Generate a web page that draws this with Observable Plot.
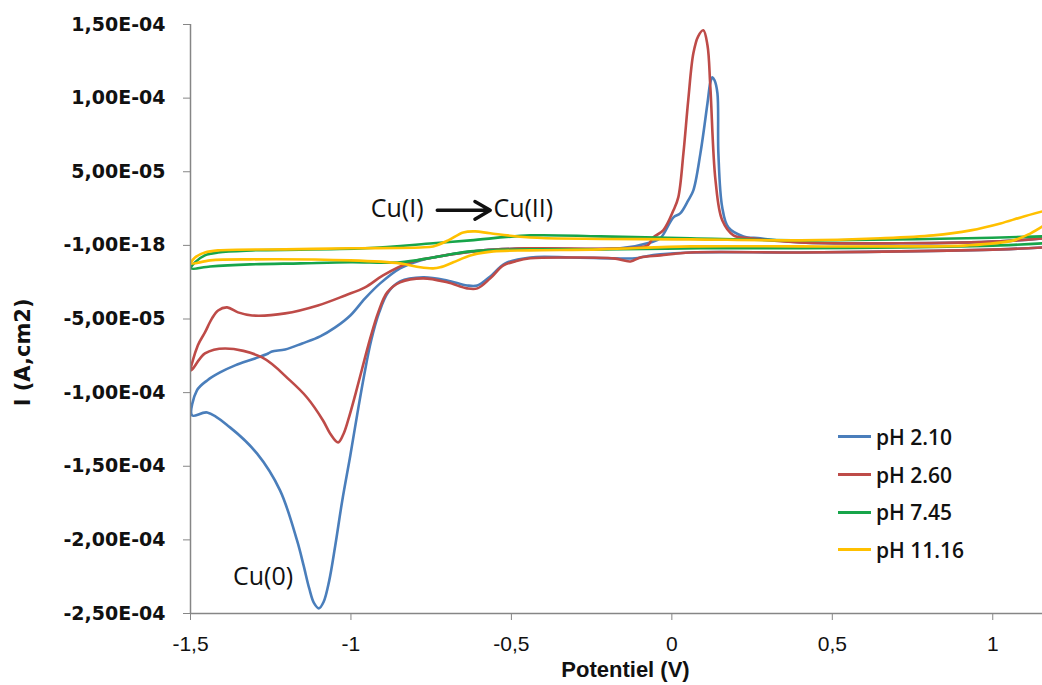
<!DOCTYPE html>
<html>
<head>
<meta charset="utf-8">
<script src="https://cdn.jsdelivr.net/npm/d3@7"></script>
<script src="https://cdn.jsdelivr.net/npm/@observablehq/plot@0.6"></script>
<style>
  html, body { margin: 0; padding: 0; background: #fff; }
  #wrap { position: relative; width: 1042px; height: 685px; }
  #legend { position: absolute; left: 838px; top: 418px; font-family: "Open Sans", "Liberation Sans", sans-serif; font-weight: 600; font-size: 21px; color: #111; }
  #legend .row { display: flex; align-items: center; height: 37.7px; }
  #legend .sw { width: 33px; height: 3px; margin-right: 5px; }
</style>
</head>
<body>
<div id="wrap"><div id="legend"></div></div>
<script>
// Potential (V) and current (units of 1e-5 A) — each loop: cathodic sweep (right→left) then anodic return
const seriesNames = ["pH 2.10", "pH 2.60", "pH 7.45", "pH 11.16"];
const seriesColors = ["#4a7ebb", "#be4b48", "#17a54a", "#ffc000"];

const ph210X = [1.155,1.024,0.712,0.401,0.058,-0.036,-0.083,-0.114,-0.182,-0.316,-0.441,-0.519,-0.566,-0.606,-0.638,-0.700,-0.775,-0.847,-0.884,-0.912,-0.937,-0.959,-0.981,-1.002,-1.027,-1.049,-1.068,-1.085,-1.100,-1.115,-1.130,-1.148,-1.168,-1.221,-1.293,-1.377,-1.448,-1.495,
  -1.480,-1.448,-1.408,-1.361,-1.299,-1.258,-1.246,-1.205,-1.152,-1.096,-1.049,-1.002,-0.956,-0.909,-0.847,-0.784,-0.744,-0.588,-0.441,-0.161,-0.067,-0.036,0.005,0.026,0.051,0.067,0.089,0.111,0.120,0.126,0.133,0.142,0.145,0.157,0.176,0.223,0.276,0.401,0.712,1.024,1.155];
const ph210Y = [-0.14,-0.27,-0.41,-0.48,-0.48,-0.61,-0.75,-0.88,-0.88,-0.82,-0.82,-1.22,-2.11,-2.72,-2.72,-2.38,-2.17,-2.45,-3.19,-4.55,-6.46,-8.83,-11.55,-14.27,-17.32,-20.40,-22.80,-24.20,-24.65,-24.30,-23.30,-21.70,-20.04,-16.64,-14.13,-12.36,-11.35,-11.55,
  -9.85,-9.17,-8.63,-8.15,-7.68,-7.34,-7.20,-7.07,-6.66,-6.18,-5.57,-4.76,-3.60,-2.58,-1.56,-1.02,-0.82,-0.34,-0.20,-0.20,0.20,0.48,1.90,2.17,3.06,3.74,6.25,9.65,11.07,11.41,11.21,10.33,6.25,2.58,1.22,0.61,0.48,0.20,0.14,0.27,0.48];

const ph260X = [1.155,1.024,0.712,0.401,0.058,-0.036,-0.098,-0.129,-0.182,-0.316,-0.441,-0.488,-0.525,-0.566,-0.606,-0.638,-0.700,-0.775,-0.847,-0.887,-0.915,-0.940,-0.965,-0.987,-1.009,-1.024,-1.040,-1.065,-1.087,-1.137,-1.190,-1.277,-1.392,-1.455,-1.498,
  -1.477,-1.455,-1.433,-1.414,-1.386,-1.352,-1.308,-1.205,-1.103,-1.018,-0.956,-0.900,-0.815,-0.744,-0.588,-0.441,-0.161,-0.076,-0.058,-0.027,0.005,0.020,0.036,0.051,0.067,0.082,0.098,0.111,0.120,0.136,0.157,0.192,0.245,0.401,0.712,1.024,1.155];
const ph260Y = [-0.14,-0.27,-0.41,-0.48,-0.48,-0.68,-0.82,-1.09,-0.88,-0.82,-0.88,-1.09,-1.36,-2.24,-2.92,-2.92,-2.51,-2.24,-2.51,-3.19,-4.55,-6.32,-8.36,-10.19,-11.89,-12.84,-13.38,-12.77,-11.89,-10.33,-9.17,-7.61,-7.00,-7.34,-8.49,
  -6.79,-5.91,-4.96,-4.42,-4.21,-4.55,-4.76,-4.62,-4.08,-3.40,-2.85,-2.04,-1.15,-0.82,-0.34,-0.20,-0.20,0.00,0.54,1.02,2.38,3.26,6.25,9.85,13.04,14.20,14.61,13.59,10.73,4.42,1.70,0.68,0.48,0.20,0.14,0.27,0.48];

const ph745X = [1.155,1.024,0.712,0.401,0.089,-0.223,-0.441,-0.628,-0.744,-0.847,-1.002,-1.158,-1.314,-1.439,-1.498,
  -1.486,-1.455,-1.414,-1.308,-0.956,-0.744,-0.628,-0.441,-0.223,0.058,0.401,0.921,1.155];
const ph745Y = [0.14,0.00,-0.14,-0.20,-0.20,-0.27,-0.27,-0.41,-0.82,-1.15,-1.15,-1.22,-1.29,-1.43,-1.56,
  -1.15,-0.68,-0.48,-0.34,-0.20,0.14,0.34,0.68,0.61,0.48,0.34,0.48,0.61];

const ph1116X = [1.155,1.118,1.065,0.921,0.712,0.401,0.058,-0.223,-0.441,-0.556,-0.628,-0.681,-0.722,-0.744,-0.784,-0.847,-1.002,-1.314,-1.439,-1.498,
  -1.486,-1.455,-1.414,-1.205,-1.002,-0.784,-0.744,-0.697,-0.650,-0.613,-0.566,-0.441,0.058,0.401,0.650,0.815,0.931,1.024,1.087,1.155];
const ph1116Y = [1.29,0.82,0.34,0.00,-0.07,-0.07,-0.07,-0.27,-0.34,-0.41,-0.68,-1.15,-1.49,-1.56,-1.49,-1.22,-1.02,-0.95,-1.02,-1.22,
  -0.82,-0.48,-0.34,-0.27,-0.20,-0.14,-0.07,0.34,0.88,0.95,0.82,0.54,0.41,0.34,0.48,0.68,1.02,1.49,1.90,2.31];

const xTicks = [-1.5, -1, -0.5, 0, 0.5, 1];
const xTickLabels = ["-1,5", "-1", "-0,5", "0", "0,5", "1"];
const yTicks = [-25, -20, -15, -10, -5, 0, 5, 10, 15];
const yTickLabels = ["-2,50E-04", "-2,00E-04", "-1,50E-04", "-1,00E-04", "-5,00E-05", "-1,00E-18", "5,00E-05", "1,00E-04", "1,50E-04"];

const annotations = [
  {x: -1.274, y: -22.55, label: "Cu(0)"},
  {x: -0.856, y: 2.45, label: "Cu(I)"},
  {x: -0.463, y: 2.45, label: "Cu(II)"}
];
const arrowSeg = [{x1: -0.731, x2: -0.566, y: 2.38}];
const yTitle = [{x: -2.02, y: -7.27, label: "I (A,cm2)"}];

const xs = [ph210X, ph260X, ph745X, ph1116X];
const ys = [ph210Y, ph260Y, ph745Y, ph1116Y];
const rows = [];
seriesNames.forEach((name, s) => {
  xs[s].forEach((x, i) => rows.push({series: name, x, y: ys[s][i], order: i}));
});

const xLab = new Map(xTicks.map((t, i) => [t, xTickLabels[i]]));
const yLab = new Map(yTicks.map((t, i) => [t, yTickLabels[i]]));

const chart = Plot.plot({
  width: 1042,
  height: 685,
  marginLeft: 190,
  marginRight: 0,
  marginTop: 24,
  marginBottom: 72,
  x: {domain: [-1.5, 1.155]},
  y: {domain: [-25, 15]},
  color: {domain: seriesNames, range: seriesColors},
  style: {background: "#fff", overflow: "visible"},
  marks: [
    Plot.line(rows, {x: "x", y: "y", z: "series", stroke: "series", strokeWidth: 2.6, curve: "catmull-rom", clip: true}),
    Plot.axisY({ticks: yTicks, tickSize: 7, tickPadding: 18, tickFormat: d => yLab.get(d), label: null,
      fontSize: 19, fontWeight: "bold", fontFamily: "DejaVu Sans", stroke: "#868686", color: "#111"}),
    Plot.axisX({ticks: xTicks, tickSize: 7, tickPadding: 16, tickFormat: d => xLab.get(d), label: null,
      fontSize: 21, fontFamily: "Liberation Sans Narrow, Liberation Sans, sans-serif", stroke: "#868686", color: "#111"}),
    Plot.ruleY([-25], {stroke: "#868686", strokeWidth: 1.5}),
    Plot.ruleX([-1.5], {stroke: "#868686", strokeWidth: 1.5}),
    Plot.text(annotations, {x: "x", y: "y", text: "label", fontSize: 25, fontFamily: "Open Sans, Liberation Sans, sans-serif", fill: "#111"}),
    Plot.arrow(arrowSeg, {x1: "x1", x2: "x2", y1: "y", y2: "y", stroke: "#111", strokeWidth: 3.5, headLength: 14}),
    Plot.text(["Potentiel (V)"], {frameAnchor: "bottom", dx: 9, dy: 63, fontSize: 22, fontWeight: "bold", fontFamily: "Liberation Sans Narrow, Liberation Sans, sans-serif", fill: "#111"}),
    Plot.text(yTitle, {x: "x", y: "y", text: "label", rotate: -90, fontSize: 21, fontWeight: "bold", fontFamily: "DejaVu Sans", fill: "#111"})
  ]
});
document.getElementById("wrap").prepend(chart);

const legend = document.getElementById("legend");
seriesNames.forEach((name, i) => {
  const row = document.createElement("div");
  row.className = "row";
  row.innerHTML = `<span class="sw" style="background:${seriesColors[i]}"></span><span>${name}</span>`;
  legend.appendChild(row);
});
</script>
</body>
</html>
